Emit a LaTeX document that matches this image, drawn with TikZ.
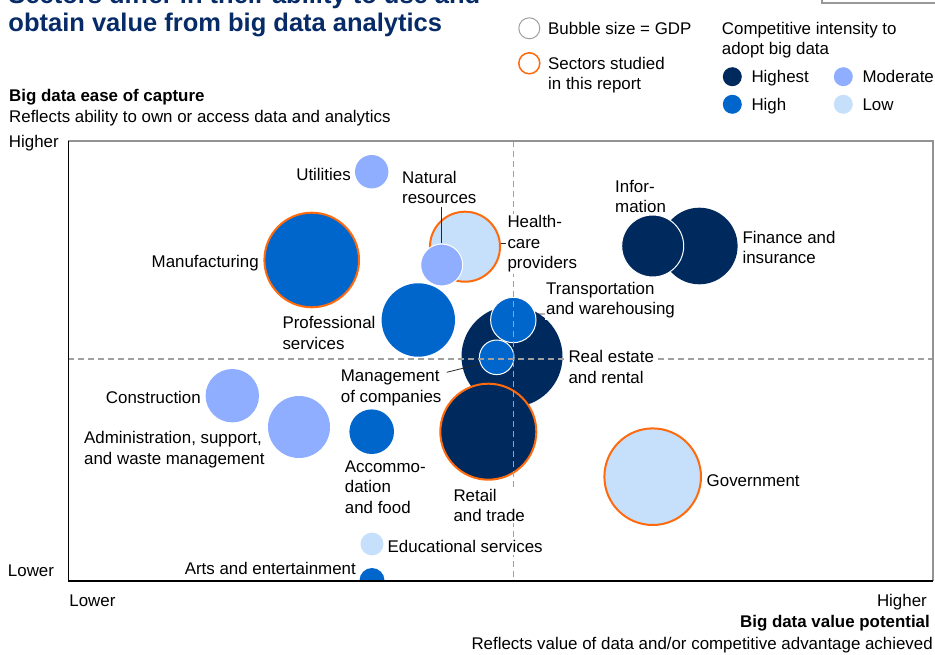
\documentclass[tikz,border=0pt]{standalone}
\usepackage{fontspec}
\setmainfont{Liberation Sans}
\definecolor{navy}{RGB}{0,42,94}
\definecolor{hiblue}{RGB}{0,102,204}
\definecolor{modblue}{RGB}{143,174,255}
\definecolor{lowblue}{RGB}{198,223,250}
\definecolor{studied}{RGB}{255,106,13}
\definecolor{titleblue}{RGB}{6,43,102}
\definecolor{guide}{RGB}{160,160,160}
\begin{document}
\begin{tikzpicture}[x=1pt,y=-1pt,
  txt/.style={font=\fontsize{16.9}{20.4}\selectfont, inner sep=1.5pt, align=left, text=black},
  boldtxt/.style={txt, font=\fontsize{16.9}{20.4}\selectfont\bfseries},
  lbl/.style={txt, fill=white},
  bub/.style={circle, inner sep=0pt, minimum size=2*#1},
  highest/.style={fill=navy},
  high/.style={fill=hiblue},
  moderate/.style={fill=modblue},
  low/.style={fill=lowblue},
  studiedring/.style={draw=studied, line width=2pt},
  split/.style={draw=white, line width=1pt},
  leader/.style={draw=black!85, line width=0.8pt},
  guideline/.style={draw=guide, line width=1.1pt, dash pattern=on 6pt off 4pt},
  titletxt/.style={anchor=base west, inner sep=0pt, font=\fontsize{25.5}{28}\selectfont\bfseries, text=titleblue},
]
\useasboundingbox (0,0) rectangle (935,655);
\clip (0,0) rectangle (935,655);

% title (partly cut off, as in the reference)
\node[titletxt] (title1) at (8.3,3.5) {Sectors differ in their ability to use and};
\node[titletxt] (title2) at (8.3,31.5) {obtain value from big data analytics};

% grey box edge top right
\draw[draw=gray!80, line width=1.5pt] (822,-2) -- (822,3) -- (937,3);

% legend
\node[bub=10.5, draw=gray!75, line width=1pt] (lgdp) at (529.3,28.3) {};
\node[txt, anchor=base west] (lgdpt) at (546.5,34.5) {Bubble size = GDP};
\node[bub=10.5, draw=studied, line width=1.5pt] (lstud) at (529.3,63.3) {};
\node[txt, anchor=north west] (lstudt) at (546.5,55.6) {Sectors studied\\in this report};
\node[txt, anchor=north west] (lcomp) at (720.2,20.6) {Competitive intensity to\\adopt big data};
\node[bub=9.5, highest] (lhst) at (732.3,76.7) {};
\node[txt, anchor=base west] (lhstt) at (749.8,82.9) {Highest};
\node[bub=9.5, moderate] (lmod) at (843.3,76.7) {};
\node[txt, anchor=base west] (lmodt) at (860.8,82.9) {Moderate};
\node[bub=9.5, high] (lhi) at (732.3,104.3) {};
\node[txt, anchor=base west] (lhit) at (749.8,110.5) {High};
\node[bub=9.5, low] (llow) at (843.3,104.3) {};
\node[txt, anchor=base west] (llowt) at (860.8,110.5) {Low};

% axis titles
\node[boldtxt, anchor=base west] (ytitle) at (7.5,101.2) {Big data ease of capture};
\node[txt, anchor=base west] (ysub) at (7.5,122.2) {Reflects ability to own or access data and analytics};
\node[txt, anchor=base west] (yhi) at (7.3,147.9) {Higher};
\node[txt, anchor=base west] (ylo) at (6.3,576.2) {Lower};
\node[txt, anchor=base west] (xlo) at (67.7,606.2) {Lower};
\node[txt, anchor=base east] (xhi) at (928.5,606.2) {Higher};
\node[boldtxt, anchor=base east] (xtitle) at (931.5,627.9) {Big data value potential};
\node[txt, anchor=base east] (xsub) at (934.5,649.5) {Reflects value of data and/or competitive advantage achieved};

% bubbles
\node[bub=38.3, highest] (fin) at (699.3,246) {};
\node[bub=31, highest, split] (info) at (652.7,246) {};
\node[bub=16.7, moderate] (util) at (371.7,171.7) {};
\node[bub=47.3, high, studiedring] (manu) at (311.7,260) {};
\node[bub=35, low, studiedring] (hc) at (465,246.7) {};
\node[bub=21, moderate, split] (nr) at (441.7,265) {};
\node[bub=36.7, high] (prof) at (418.3,320) {};
\node[bub=50.5, highest] (re) at (512,356.5) {};
\node[bub=22.7, high, split] (tr) at (513.3,320) {};
\node[bub=17.3, high, split] (mg) at (496.7,357.3) {};
\node[bub=48, highest, studiedring] (ret) at (488.3,431.7) {};
\node[bub=22.3, high] (acc) at (371.7,431.7) {};
\node[bub=26.7, moderate] (con) at (232.3,395.7) {};
\node[bub=31, moderate] (adm) at (299,427) {};
\node[bub=11.5, low] (edu) at (372,544) {};
\begin{scope}
  \clip (68.3,141) rectangle (933,581);
  \node[bub=12.5, high] (arts) at (372,580.5) {};
\end{scope}
\node[bub=48.3, low, studiedring] (gov) at (652.7,476.7) {};

% quadrant guides
\draw[guideline] (513.3,141) -- (513.3,581);
\draw[guideline] (68.3,359) -- (933,359);

% leader lines
\coordinate (nrl) at (441.7,207);
\draw[leader] (nrl) -- (nr.north);
\coordinate (hcl) at (507,243.6);
\draw[leader] (hc.5) -- (hcl);
\coordinate (trl) at (546,314);
\draw[leader] (tr.15) -- (trl);
\coordinate (mgl) at (446.7,372.3);
\draw[leader] (mgl) -- (mg.202);

% labels
\node[lbl, anchor=base east] (tutil) at (352.5,181) {Utilities};
\node[lbl, anchor=north west] (tnr) at (400.5,169.6) {Natural\\resources};
\node[lbl, anchor=north west] (thc) at (505.8,214) {Health-\\care\\providers};
\node[lbl, anchor=base east] (tmanu) at (260.5,268) {Manufacturing};
\node[lbl, anchor=north west] (tprof) at (280.8,315) {Professional\\services};
\node[lbl, anchor=north west] (ttr) at (544.5,280.6) {Transportation\\and warehousing};
\node[lbl, anchor=north west] (tre) at (566.8,349) {Real estate\\and rental};
\node[lbl, anchor=north west] (tmg) at (339.2,368.3) {Management\\of companies};
\node[lbl, anchor=north west] (tinfo) at (613.5,178.3) {Infor-\\mation};
\node[lbl, anchor=north west] (tfin) at (740.8,229.6) {Finance and\\insurance};
\node[lbl, anchor=base east] (tcon) at (202.5,403) {Construction};
\node[lbl, anchor=north west] (tadm) at (82.5,430) {Administration, support,\\and waste management};
\node[lbl, anchor=north west] (tacc) at (343.2,459) {Accommo-\\dation\\and food};
\node[lbl, anchor=north west] (tret) at (451.8,487.3) {Retail\\and trade};
\node[lbl, anchor=base west] (tgov) at (705,486.2) {Government};
\node[lbl, anchor=base west] (tedu) at (386,552.9) {Educational services};
\node[lbl, anchor=base east] (tarts) at (357.5,574.5) {Arts and entertainment};

% plot frame
\draw[draw=gray!85, line width=1.2pt] (68.3,141) -- (933,141) -- (933,581);
\draw[draw=black, line width=1.2pt] (68.3,141) -- (68.3,581) -- (933,581);
\end{tikzpicture}
\end{document}
